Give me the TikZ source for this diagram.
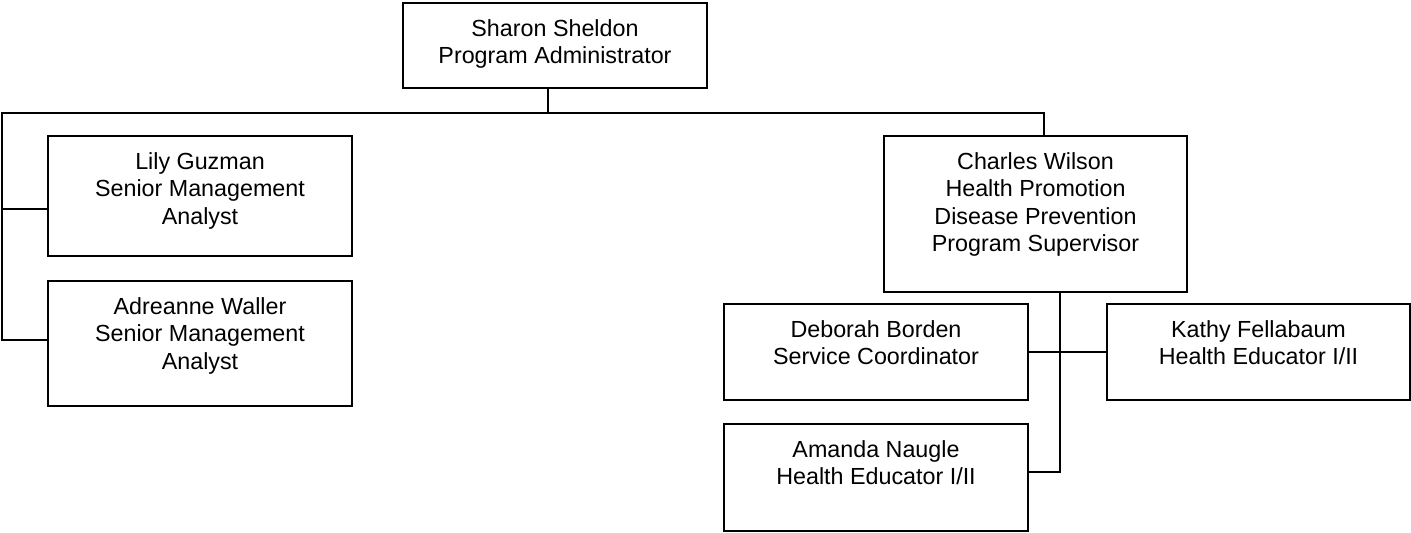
\documentclass[tikz,border=0pt]{standalone}
\usepackage{fontspec}
\setmainfont{Liberation Sans}
\usetikzlibrary{fit}

\begin{document}
\begin{tikzpicture}[x=0.5pt, y=-0.5pt,
  unit/.style={draw, line width=1pt, inner sep=0pt, outer sep=0pt},
  who/.style={align=center, anchor=north, inner sep=0pt,
    font={\fontsize{11.65pt}{13.75pt}\selectfont}},
  conn/.style={line width=1pt}]
\def\topgap{6.9pt} % box top to top of first text line (strut)
\useasboundingbox (0,0) rectangle (1411,532);

% boxes: name / left / top / right / bottom / text
\foreach \nm/\xa/\ya/\xb/\yb/\txt in {
  sharon/403/3/707/88/{Sharon Sheldon\\Program Administrator},
  lily/48/136/352/256/{Lily Guzman\\Senior Management\\Analyst},
  adreanne/48/281/352/406/{Adreanne Waller\\Senior Management\\Analyst},
  charles/884/136/1187/292/{Charles Wilson\\Health Promotion\\Disease Prevention\\Program Supervisor},
  deborah/724/304/1028/400/{Deborah Borden\\Service Coordinator},
  kathy/1107/304/1410/400/{Kathy Fellabaum\\Health Educator I/II},
  amanda/724/424/1028/531/{Amanda Naugle\\Health Educator I/II}}
{
  \node[unit, fit={(\xa,\ya) (\xb,\yb)}] (\nm) {};
  \node[who] (\nm-t) at ([yshift=-\topgap]\nm.north) {\strut\txt};
}

% bus and drops
\coordinate (stem) at (548,113);
\coordinate (busL) at (2,113);
\coordinate (busR) at (1044,113);
\coordinate (lilyin) at (48,209);
\coordinate (adrin) at (48,340);
\coordinate (hub) at (1060,352);
\coordinate (amandain) at (1028,472);

\draw[conn] (sharon.south -| stem) -- (stem);
\draw[conn] (lilyin) -| (busL) -- (busR) -- (charles.north -| busR);
\draw[conn] (adrin) -| (busL);
\draw[conn] (charles.south -| hub) |- (amandain);
\draw[conn] (deborah.east) -- (kathy.west);
\end{tikzpicture}
\end{document}
